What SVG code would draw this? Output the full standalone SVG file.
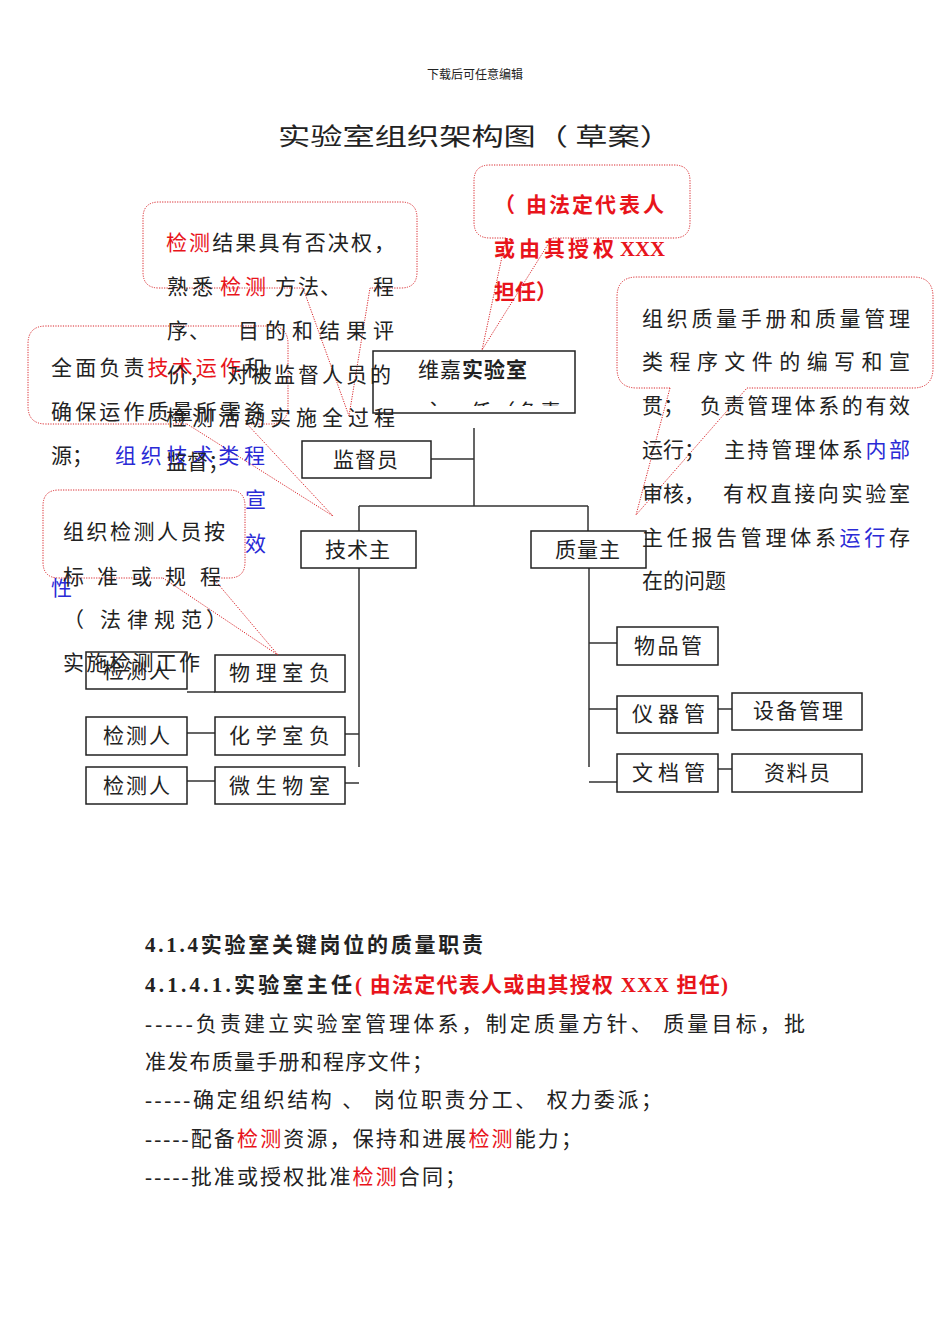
<svg xmlns="http://www.w3.org/2000/svg" width="950" height="1344" viewBox="0 0 950 1344">
<style>
text{font-family:"Noto Sans CJK SC","Noto Sans",sans-serif;fill:#222;}
.f21{font-size:21px;}
.sf{font-family:"Liberation Serif","Noto Sans CJK SC",serif;}
.b{font-weight:bold;}
.red{fill:#e8141b;}
.blue{fill:#2a2ad6;}
.box{fill:#fff;stroke:#222;stroke-width:1.5;}
.ln{fill:none;stroke:#333;stroke-width:1.5;}
.co{fill:none;stroke:#d9262b;stroke-width:1;stroke-dasharray:1.2 1.3;}
</style>
<defs>
<clipPath id="clipTop"><rect x="374" y="352" width="200" height="54"/></clipPath>
</defs>
<rect width="950" height="1344" fill="#fff"/>
<text x="475" y="79" font-size="12" text-anchor="middle" fill="#333">下载后可任意编辑</text>
<text x="278" y="145" font-size="24" textLength="394" lengthAdjust="spacingAndGlyphs">实验室组织架构图（ 草案）</text>

<g id="connectors">
<path class="ln" d="M474,428 V506 M431,459 H474 M359,506 H588 M359,506 V531 M588,506 V531 M359,568 V767 M345,734 H359 M345,783 H359 M187,692 H215 M187,733 H215 M187,781 H215 M589,568 V767 M589,643 H617 M589,709 H617 M718,709 H732 M589,782 H617 M718,769 H732"/>
</g>

<g id="node-director">
<rect class="box" x="373" y="351" width="202" height="62"/>
<text class="f21" x="418" y="377" letter-spacing="1">维嘉<tspan class="b">实验室</tspan></text>
<g clip-path="url(#clipTop)"><text class="f21" y="419"><tspan x="423">主</tspan><tspan x="470">任</tspan><tspan x="494">（</tspan><tspan x="518">负</tspan><tspan x="540">责</tspan></text></g>
</g>
<g id="node-supervisor"><rect class="box" x="302" y="441" width="129" height="37"/><text class="f21" x="366" y="467" text-anchor="middle" letter-spacing="1">监督员</text></g>
<g id="node-tech"><rect class="box" x="301" y="531" width="115" height="37"/><text class="f21" x="358" y="557" text-anchor="middle" letter-spacing="1">技术主</text></g>
<g id="node-quality"><rect class="box" x="531" y="531" width="115" height="37"/><text class="f21" x="588" y="557" text-anchor="middle" letter-spacing="1">质量主</text></g>
<g id="node-phys"><rect class="box" x="215" y="655" width="130" height="37"/><text class="f21" x="229" y="680" textLength="101" lengthAdjust="spacing">物理室负</text></g>
<g id="node-chem"><rect class="box" x="215" y="717" width="130" height="38"/><text class="f21" x="229" y="743" textLength="101" lengthAdjust="spacing">化学室负</text></g>
<g id="node-micro"><rect class="box" x="215" y="767" width="130" height="37"/><text class="f21" x="229" y="793" textLength="101" lengthAdjust="spacing">微生物室</text></g>
<g id="node-tester1"><rect class="box" x="86" y="652" width="101" height="37"/><text class="f21" x="103" y="678" textLength="67" lengthAdjust="spacing">检测人</text></g>
<g id="node-tester2"><rect class="box" x="86" y="717" width="101" height="38"/><text class="f21" x="103" y="743" textLength="67" lengthAdjust="spacing">检测人</text></g>
<g id="node-tester3"><rect class="box" x="86" y="767" width="101" height="37"/><text class="f21" x="103" y="793" textLength="67" lengthAdjust="spacing">检测人</text></g>
<g id="node-goods"><rect class="box" x="617" y="627" width="101" height="38"/><text class="f21" x="634" y="653" textLength="68" lengthAdjust="spacing">物品管</text></g>
<g id="node-instr"><rect class="box" x="617" y="696" width="101" height="37"/><text class="f21" x="632" y="721" textLength="73" lengthAdjust="spacing">仪器管</text></g>
<g id="node-equip"><rect class="box" x="732" y="693" width="130" height="37"/><text class="f21" x="753" y="718" textLength="90" lengthAdjust="spacing">设备管理</text></g>
<g id="node-docs"><rect class="box" x="617" y="754" width="101" height="38"/><text class="f21" x="632" y="780" textLength="73" lengthAdjust="spacing">文档管</text></g>
<g id="node-archivist"><rect class="box" x="732" y="754" width="130" height="38"/><text class="f21" x="764" y="780" textLength="66" lengthAdjust="spacing">资料员</text></g>

<g id="callout-tech">
<path class="co" d="M187,424 L333,516 L247,424 L270,424 Q288,424 288,406 L288,344 Q288,326 270,326 L46,326 Q28,326 28,344 L28,406 Q28,424 46,424 Z"/>
<text class="f21" x="51" y="375" textLength="214" lengthAdjust="spacing">全面负责<tspan class="red">技术运作</tspan>和</text>
<text class="f21" x="51" y="419" textLength="214" lengthAdjust="spacing">确保运作质量所需资</text>
<text class="f21" x="51" y="463">源；</text>
<text class="f21 blue" x="115" y="463" textLength="150" lengthAdjust="spacing">组织技术类程</text>
<text class="f21 blue" x="245" y="507">宣</text>
<text class="f21 blue" x="245" y="551">效</text>
<text class="f21 blue" x="51" y="595">性</text>
</g>

<g id="callout-tester">
<rect x="43" y="490" width="202" height="88" rx="16" fill="#fff"/>
<path class="co" d="M163,578 L278,655 L213,578 L229,578 Q245,578 245,562 L245,506 Q245,490 229,490 L59,490 Q43,490 43,506 L43,562 Q43,578 59,578 Z"/>
<text class="f21" x="63" y="539" textLength="162" lengthAdjust="spacing">组织检测人员按</text>
<text class="f21" y="584"><tspan x="63">标</tspan><tspan x="97">准</tspan><tspan x="131">或</tspan><tspan x="165">规</tspan><tspan x="200">程</tspan></text>
<text class="f21" y="627"><tspan x="63">（</tspan><tspan x="100">法</tspan><tspan x="127">律</tspan><tspan x="154">规</tspan><tspan x="181">范</tspan><tspan x="206">）</tspan></text>
<text class="f21" x="63" y="670" textLength="137" lengthAdjust="spacing">实施检测工作</text>
</g>

<g id="callout-supervisor">
<path class="co" d="M303,288 L349,416 L370,288 L401,288 Q417,288 417,272 L417,218 Q417,202 401,202 L159,202 Q143,202 143,218 L143,272 Q143,288 159,288 Z"/>
<text class="f21" x="166" y="250" textLength="229" lengthAdjust="spacing"><tspan class="red">检测</tspan>结果具有否决权，</text>
<text class="f21" y="294"><tspan x="167">熟</tspan><tspan x="192">悉</tspan><tspan x="220" class="red">检</tspan><tspan x="245" class="red">测</tspan><tspan x="275">方</tspan><tspan x="298">法</tspan><tspan x="320">、</tspan><tspan x="373">程</tspan></text>
<text class="f21" y="338"><tspan x="167">序</tspan><tspan x="189">、</tspan><tspan x="238">目</tspan><tspan x="265">的</tspan><tspan x="292">和</tspan><tspan x="319">结</tspan><tspan x="346">果</tspan><tspan x="373">评</tspan></text>
<text class="f21" y="382"><tspan x="167">价</tspan><tspan x="189">，</tspan><tspan x="227">对</tspan><tspan x="251">被</tspan><tspan x="274">监</tspan><tspan x="298">督</tspan><tspan x="322">人</tspan><tspan x="346">员</tspan><tspan x="370">的</tspan></text>
<text class="f21" x="166" y="425" textLength="229" lengthAdjust="spacing">检测活动实施全过程</text>
<text class="f21" x="166" y="469">监督；</text>
</g>

<g id="callout-director">
<path class="co" d="M506,238 L482,350 L552,238 L674,238 Q690,238 690,222 L690,181 Q690,165 674,165 L490,165 Q474,165 474,181 L474,222 Q474,238 490,238 Z"/>
<text class="f21 b red" y="212"><tspan x="494">（</tspan><tspan x="526">由</tspan><tspan x="549">法</tspan><tspan x="572">定</tspan><tspan x="595">代</tspan><tspan x="619">表</tspan><tspan x="643">人</tspan></text>
<text class="f21 b red" y="256"><tspan x="494">或</tspan><tspan x="519">由</tspan><tspan x="544">其</tspan><tspan x="568">授</tspan><tspan x="593">权</tspan></text>
<text class="f21 b red sf" x="620" y="256" textLength="45" lengthAdjust="spacingAndGlyphs">XXX</text>
<text class="f21 b red" x="494" y="299">担任）</text>
</g>

<g id="callout-quality">
<path class="co" d="M670,388 L636,515 L747,388 L913,388 Q933,388 933,368 L933,297 Q933,277 913,277 L637,277 Q617,277 617,297 L617,368 Q617,388 637,388 Z"/>
<text class="f21" x="642" y="326" textLength="268" lengthAdjust="spacing">组织质量手册和质量管理</text>
<text class="f21" x="642" y="369" textLength="268" lengthAdjust="spacing">类程序文件的编写和宣</text>
<text class="f21" x="642" y="413">贯；</text>
<text class="f21" x="700" y="413" textLength="210" lengthAdjust="spacing">负责管理体系的有效</text>
<text class="f21" x="642" y="457">运行；</text>
<text class="f21" x="724" y="457" textLength="186" lengthAdjust="spacing">主持管理体系<tspan class="blue">内部</tspan></text>
<text class="f21" x="642" y="501">审核，</text>
<text class="f21" x="723" y="501" textLength="187" lengthAdjust="spacing">有权直接向实验室</text>
<text class="f21" x="642" y="545" textLength="268" lengthAdjust="spacing">主任报告管理体系<tspan class="blue">运行</tspan>存</text>
<text class="f21" x="642" y="588">在的问题</text>
</g>

<g id="duties">
<text class="f21 b sf" x="145" y="952" textLength="338" lengthAdjust="spacing">4.1.4实验室关键岗位的质量职责</text>
<text class="f21 b sf" x="145" y="992" textLength="207" lengthAdjust="spacing">4.1.4.1.实验室主任</text>
<text class="f21 b sf red" x="355" y="992" textLength="373" lengthAdjust="spacing">( 由法定代表人或由其授权 XXX 担任)</text>
<text class="f21 sf" x="145" y="1031" textLength="660" lengthAdjust="spacing">-----负责建立实验室管理体系，制定质量方针、 质量目标，批</text>
<text class="f21 sf" x="145" y="1069" textLength="288" lengthAdjust="spacing">准发布质量手册和程序文件；</text>
<text class="f21 sf" x="145" y="1107" textLength="517" lengthAdjust="spacing">-----确定组织结构 、 岗位职责分工、 权力委派；</text>
<text class="f21 sf" x="145" y="1146" textLength="437" lengthAdjust="spacing">-----配备<tspan class="red">检测</tspan>资源，保持和进展<tspan class="red">检测</tspan>能力；</text>
<text class="f21 sf" x="145" y="1184" textLength="321" lengthAdjust="spacing">-----批准或授权批准<tspan class="red">检测</tspan>合同；</text>
</g>
</svg>
